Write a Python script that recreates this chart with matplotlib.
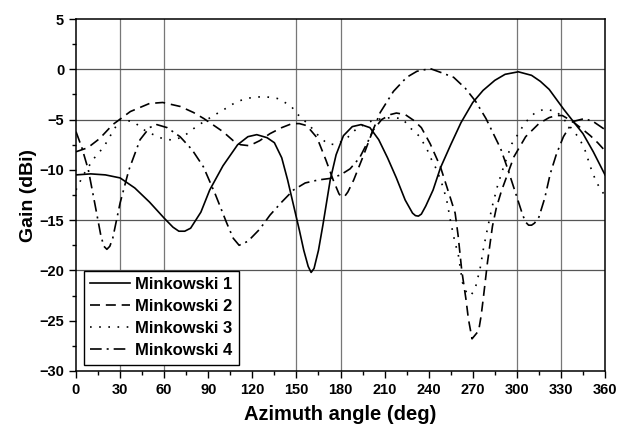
import matplotlib
matplotlib.use('Agg')
from matplotlib import pyplot as plt

plt.rcParams['font.family'] = ['Liberation Sans', 'DejaVu Sans']
plt.rcParams['font.weight'] = 'bold'

# Minkowski 1 (solid)
ang1 = [0, 10, 20, 30, 40, 50, 60, 66, 70, 74, 78, 85, 91, 100, 110, 117, 123, 130, 135,
        140, 144, 148, 152, 155, 158, 160, 162, 165, 168, 173, 177, 182, 188, 194, 200,
        206, 212, 218, 224, 229, 231, 233, 235, 238, 243, 248, 255, 262, 270, 277, 285,
        292, 301, 310, 316, 322, 327, 332, 339, 345, 352, 360]
gain1 = [-10.5, -10.4, -10.5, -10.8, -11.8, -13.2, -14.8, -15.7, -16.1, -16.1, -15.8,
         -14.2, -12.0, -9.6, -7.5, -6.7, -6.5, -6.8, -7.3, -8.8, -11.0, -13.5, -16.0,
         -18.0, -19.6, -20.2, -19.8, -18.0, -15.5, -11.0, -8.5, -6.6, -5.7, -5.5, -5.8,
         -7.0, -8.8, -10.8, -13.0, -14.3, -14.55, -14.6, -14.4, -13.6, -12.0, -9.8, -7.5,
         -5.3, -3.3, -2.1, -1.1, -0.5, -0.25, -0.6, -1.2, -2.0, -3.0, -4.0, -5.3, -6.4,
         -8.2, -10.5]

# Minkowski 2 (dashed)
ang2 = [0, 8, 16, 25, 37, 50, 59, 71, 80, 87, 95, 100, 107, 112, 118, 125, 132, 140,
        147, 152, 157, 164, 170, 175, 179, 181, 183, 185, 189, 195, 202, 208, 214, 218,
        224, 230, 235, 241, 248, 255, 258, 260, 262.5, 265.5, 267, 269.5, 274, 275.7,
        277.3, 280, 283.4, 286, 289.5, 298, 306, 315, 322, 327, 331, 338, 345, 350, 355,
        360]
gain2 = [-8.2, -7.8, -6.9, -5.5, -4.2, -3.4, -3.3, -3.7, -4.3, -4.9, -5.7, -6.2, -7.1,
         -7.5, -7.6, -7.1, -6.4, -5.8, -5.4, -5.4, -5.6, -6.8, -9.0, -11.0, -12.4,
         -12.7, -12.6, -12.2, -11.0, -8.8, -6.1, -5.0, -4.5, -4.35, -4.5, -5.1, -5.8,
         -7.4, -9.7, -12.9, -14.3, -16.5, -20.0, -23.0, -24.8, -26.8, -26.0, -24.5,
         -22.6, -19.2, -15.6, -13.8, -12.1, -8.7, -6.7, -5.4, -4.8, -4.6, -4.6, -5.2,
         -6.0, -6.6, -7.3, -8.1]

# Minkowski 3 (dotted)
ang3 = [0, 5, 12, 19, 25, 30, 39, 48, 59, 66, 73, 80, 88, 96, 103, 109, 116, 123, 130,
        137, 146, 151, 159, 165, 171, 177, 184, 191, 200, 208, 215, 222, 228, 234, 239,
        242, 245.5, 250, 252.5, 255, 258, 260, 263, 266, 268.5, 271.5, 275, 277.3,
        280.2, 283.3, 287, 291, 296.6, 301, 305.6, 312.5, 319, 327, 334, 340, 343,
        346.5, 351, 354.4, 360]
gain3 = [-12.0, -10.5, -8.9, -7.7, -6.2, -5.0, -5.2, -6.2, -6.9, -7.05, -6.7, -5.9,
         -5.1, -4.4, -3.8, -3.25, -2.9, -2.75, -2.75, -2.9, -3.6, -4.5, -5.6, -6.6,
         -7.4, -7.5, -6.9, -5.9, -5.2, -4.9, -4.8, -4.9, -5.9, -6.7, -8.0, -9.0, -10.0,
         -11.8, -13.2, -15.2, -17.3, -18.3, -21.2, -22.3, -22.5, -21.9, -19.8, -17.8,
         -15.7, -13.6, -11.5, -9.7, -7.4, -6.4, -5.3, -4.3, -3.95, -4.2, -5.3, -6.4,
         -7.0, -8.1, -10.1, -11.3, -12.6]

# Minkowski 4 (dash-dot)
ang4 = [0, 4, 8.4, 13, 17, 19, 21, 23, 25, 30, 36, 43.6, 50, 55, 62, 70.8, 79, 86.7, 95,
        102.6, 107, 111, 117, 125, 132, 140, 148, 156, 165, 173, 180, 186.5, 193, 200,
        207, 216, 225, 232, 241, 248, 257, 265, 272, 279, 289, 294, 300, 304, 306, 308,
        310, 312, 315, 319, 322.7, 327, 331.7, 338, 346, 352, 358, 360]
gain4 = [-6.2, -7.8, -10.0, -13.5, -16.6, -17.6, -17.9, -17.6, -16.8, -13.3, -10.0,
         -7.0, -5.8, -5.5, -5.8, -6.7, -8.0, -9.7, -12.5, -15.3, -16.8, -17.5, -17.1,
         -15.9, -14.5, -13.2, -12.0, -11.3, -11.0, -10.85, -10.5, -9.9, -8.8, -6.8,
         -4.3, -2.2, -0.8, -0.2, 0.07, -0.3, -0.8, -1.9, -3.2, -4.9, -7.9, -10.0, -12.7,
         -14.5, -15.2, -15.5, -15.5, -15.3, -14.7, -12.8, -10.4, -8.4, -6.7, -5.2, -4.9,
         -5.2, -5.8, -6.0]

xticks = list(range(0, 361, 30))
yticks = list(range(-30, 6, 5))


def main():
    fig = plt.figure(figsize=(6.26, 4.29), dpi=100)
    ax = fig.add_axes([0.1214, 0.1352, 0.8451, 0.8205])

    # rejilla parcial como en la figura original
    for xv in [30, 60, 150, 180, 300, 330]:
        ax.axvline(xv, color='#777777', lw=0.9, zorder=0)
    for yv in [0, -5, -15, -20]:
        ax.axhline(yv, color='#555555', lw=0.9, zorder=0)

    lw = 1.2
    ax.plot(ang1, gain1, color='black', lw=lw, label='Minkowski 1')
    ax.plot(ang2, gain2, color='black', lw=lw, dashes=(6, 3.5), label='Minkowski 2')
    ax.plot(ang3, gain3, color='black', lw=lw, dashes=(1, 4.5), label='Minkowski 3')
    ax.plot(ang4, gain4, color='black', lw=lw, dashes=(7, 3, 1.2, 3), label='Minkowski 4')

    ax.set_xlim(0, 360)
    ax.set_ylim(-30, 5)
    ax.set_xticks(xticks)
    ax.set_yticks(yticks)
    ax.set_xticks(range(15, 360, 30), minor=True)
    ax.set_yticks([-27.5, -22.5, -17.5, -12.5, -7.5, -2.5, 2.5], minor=True)
    ax.tick_params(which='major', direction='out', length=5, width=1, labelsize=10.5)
    ax.tick_params(which='minor', direction='out', length=3, width=1)
    for lab in ax.get_xticklabels() + ax.get_yticklabels():
        lab.set_fontweight('bold')
    for sp in ax.spines.values():
        sp.set_linewidth(1.1)
        sp.set_color('black')

    ax.set_xlabel('Azimuth angle (deg)', fontsize=14.5, fontweight='bold', labelpad=6)
    ax.set_ylabel('Gain (dBi)', fontsize=14, fontweight='bold', labelpad=2)

    leg = ax.legend(loc='lower left', bbox_to_anchor=(0.008, 0.008), fontsize=12,
                    frameon=True, fancybox=False, edgecolor='black', framealpha=1,
                    handlelength=2.4, handletextpad=0.3, borderpad=0.4,
                    labelspacing=0.42, borderaxespad=0.2)
    leg.get_frame().set_linewidth(1.0)
    for t in leg.get_texts():
        t.set_fontweight('bold')

    fig.savefig('out.png', dpi=100)
    plt.close(fig)


if __name__ == "__main__":
    main()
